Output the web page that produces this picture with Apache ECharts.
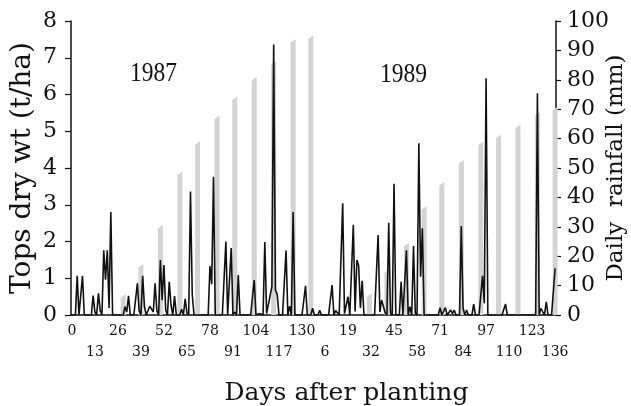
<!DOCTYPE html>
<html>
<head>
<meta charset="utf-8">
<script src="https://cdn.jsdelivr.net/npm/echarts@6/dist/echarts.min.js"></script>
<style>
html, body { margin: 0; padding: 0; background: #fff; }
#main { width: 631px; height: 406px; }
</style>
</head>
<body>
<div id="main"></div>
<script>
// two seasons on one axis, days after planting 0..136 each
var seasonLength = 137;

// dry weight samplings (day after planting, t/ha)
var dwDays1987 = [29, 39, 50, 61, 71, 82, 92, 103, 114, 125, 135];
var dw1987 = [0.52, 1.34, 2.40, 3.86, 4.68, 5.38, 5.90, 6.43, 6.86, 7.46, 7.56];
var dwDays1989 = [31, 41, 52, 62, 72, 83, 94, 104, 115, 126, 136];
var dw1989 = [0.54, 1.20, 1.92, 2.92, 3.57, 4.17, 4.67, 4.86, 5.13, 5.47, 5.62];

// rainy days (day after planting) and rainfall (mm); other days had none
var rainDays1987 = [3, 6, 12, 13, 15, 16, 18, 19, 20, 21, 22,
    30, 31, 32, 37, 38, 40, 41, 44, 45, 46, 47, 48, 50, 51, 52, 53, 55, 56, 58, 60, 62, 64, 65, 67, 68,
    78, 79, 80, 87, 90, 92, 94,
    103, 106, 107, 109, 110, 112, 113, 114, 115, 116, 121, 123, 125, 132, 136];
var rainMm1987 = [13.3, 13.3, 6.6, 1.0, 7.4, 1.5, 22, 12, 22, 2.4, 35,
    2.8, 1, 6.5, 10.8, 1.5, 13.3, 2.8, 3, 3, 1, 10.8, 1.5, 18.7, 5, 17, 1.7, 11.3, 3.4, 6.4, 0.5, 2, 5.5, 0.7, 42, 7,
    16.6, 10.5, 47, 25, 22.8, 1, 13.6,
    11.9, 0.5, 0.7, 24.8, 0.5, 6.6, 9.7, 92, 8.5, 7.0, 21.9, 3, 35, 9.9, 2.3];
var rainDays1989 = [3, 10, 12, 13, 16, 17, 19, 22, 23, 24, 25, 26, 27,
    36, 37, 38, 39, 40, 42, 43, 45, 49, 52, 54, 56, 57, 59, 60, 61,
    71, 74, 77, 78, 79, 83, 84, 86, 90, 95, 96, 97,
    108, 126, 128, 129, 131, 136];
var rainMm1989 = [1.6, 10.2, 1.5, 2.0, 38, 0.5, 6.2, 30.7, 1.2, 18.7, 16.8, 2.4, 11.6,
    27.2, 1, 5.1, 5.1, 0.7, 31.4, 0.7, 44.6, 11.3, 22, 2.8, 23.5, 0.7, 58.4, 13, 29.5,
    2.5, 2.5, 1.7, 0.5, 1.7, 30.3, 2.4, 1.7, 3.7, 13.3, 4, 80.5,
    3.7, 75.4, 2.3, 1.1, 4.5, 15.9];

// tick labels every 13 days, alternating between two rows
var labelStep = 13;

var categories = [];
var rain = [];
for (var i = 0; i < seasonLength * 2; i++) {
    categories.push(String(i % seasonLength));
    rain.push(0);
}
rainDays1987.forEach(function (d, k) { rain[d] = rainMm1987[k]; });
rainDays1989.forEach(function (d, k) { rain[seasonLength + d] = rainMm1989[k]; });

var dwData = [];
dwDays1987.forEach(function (d, k) { dwData.push([d, dw1987[k]]); });
dwDays1989.forEach(function (d, k) { dwData.push([seasonLength + d, dw1989[k]]); });

var font = 'DejaVu Serif';
var ink = '#111';

function renderBar(params, api) {
    var top = api.coord([api.value(0), api.value(1)]);
    var base = api.coord([api.value(0), 0]);
    var w = 5, slant = 1.7;
    return {
        type: 'polygon',
        shape: {
            points: [
                [top[0] - w / 2, base[1]],
                [top[0] - w / 2, top[1] + slant],
                [top[0] + w / 2, top[1] - slant],
                [top[0] + w / 2, base[1]]
            ]
        },
        style: { fill: '#d3d3d5' }
    };
}

var labelStyle = { margin: 9, fontFamily: font, fontSize: 14, color: ink };

var myChart = echarts.init(document.getElementById('main'), null, { renderer: 'canvas' });

var option = {
    animation: false,
    backgroundColor: '#fff',
    grid: { left: 71, right: 75, top: 21, bottom: 91, outerBoundsMode: 'none', containLabel: false },
    xAxis: [{
        type: 'category',
        data: categories,
        boundaryGap: true,
        name: 'Days after planting',
        nameLocation: 'middle',
        nameGap: 66,
        nameMoveOverlap: false,
        nameTextStyle: { fontFamily: font, fontSize: 25, color: ink, padding: [0, 0, 0, 66] },
        axisLine: { lineStyle: { color: ink, width: 1.5 } },
        axisTick: { interval: 9, length: 3, lineStyle: { color: ink, width: 1.2 } },
        axisLabel: Object.assign({
            interval: function (index) { return index % (2 * labelStep) === 0; }
        }, labelStyle)
    }, {
        // second row of tick labels
        type: 'category',
        data: categories,
        boundaryGap: true,
        position: 'bottom',
        offset: 21,
        axisLine: { show: false },
        axisTick: { show: false },
        axisLabel: Object.assign({
            interval: function (index) { return index % (2 * labelStep) === labelStep; }
        }, labelStyle)
    }],
    yAxis: [{
        type: 'value',
        min: 0, max: 8, interval: 1,
        name: 'Tops dry wt (t/ha)',
        nameLocation: 'middle',
        nameRotate: 90,
        nameGap: 34,
        nameMoveOverlap: false,
        nameTextStyle: { fontFamily: font, fontSize: 28, color: ink },
        axisLine: { show: true, lineStyle: { color: ink, width: 1.5 } },
        axisTick: { show: true, length: 6, lineStyle: { color: ink, width: 1.2 } },
        axisLabel: { margin: 14, fontFamily: font, fontSize: 22, color: ink },
        splitLine: { show: false }
    }, {
        type: 'value',
        min: 0, max: 100, interval: 10,
        position: 'right',
        name: 'Daily  rainfall (mm)',
        nameLocation: 'middle',
        nameRotate: 90,
        nameGap: 49,
        nameMoveOverlap: false,
        nameTextStyle: { fontFamily: font, fontSize: 23, color: ink },
        axisLine: { show: true, lineStyle: { color: ink, width: 1.5 } },
        axisTick: { show: true, length: 5, lineStyle: { color: ink, width: 1.2 } },
        axisLabel: { margin: 11, fontFamily: font, fontSize: 22, color: ink },
        splitLine: { show: false }
    }],
    graphic: [
        { type: 'text', x: 130, y: 60, scaleX: 0.84, style: { text: '1987', font: '28px "Liberation Serif"', fill: ink } },
        { type: 'text', x: 380, y: 61, scaleX: 0.84, style: { text: '1989', font: '28px "Liberation Serif"', fill: ink } }
    ],
    series: [{
        type: 'custom',
        name: 'Tops dry wt',
        yAxisIndex: 0,
        renderItem: renderBar,
        data: dwData,
        z: 1
    }, {
        type: 'line',
        name: 'Daily rainfall',
        yAxisIndex: 1,
        data: rain,
        showSymbol: false,
        symbol: 'none',
        lineStyle: { color: ink, width: 1.6 },
        z: 3
    }]
};

myChart.setOption(option);
</script>
</body>
</html>
